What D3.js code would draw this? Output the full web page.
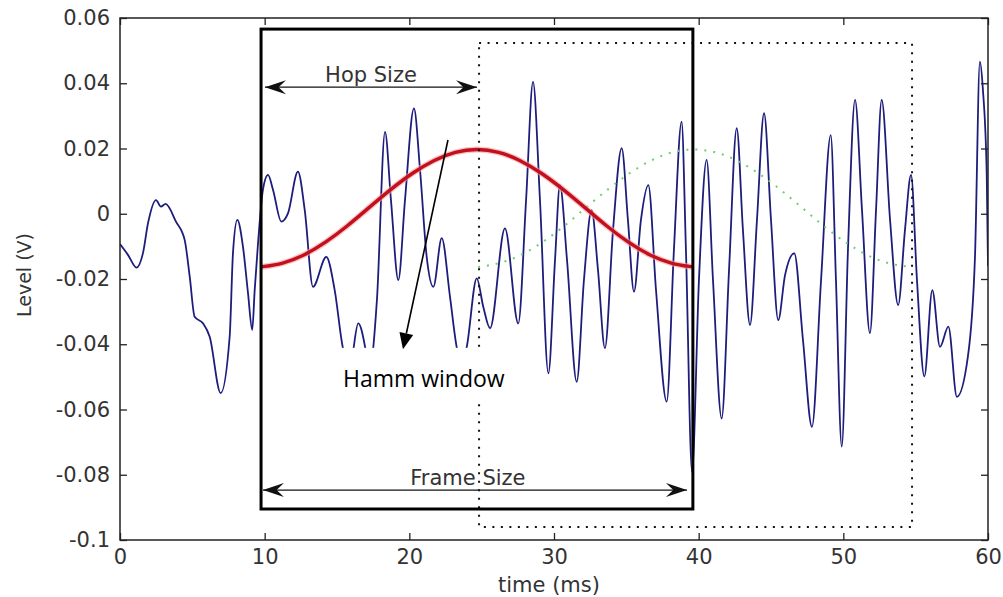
<!DOCTYPE html>
<html>
<head>
<meta charset="utf-8">
<script src="https://cdn.jsdelivr.net/npm/d3@7"></script>
<style>
  body { margin: 0; background: #fff; }
  svg { display: block; }
</style>
</head>
<body>
<svg id="chart" width="1003" height="597"></svg>
<script>
// ---------------- data ----------------
const signalSamples = [
  [0.00,-0.0093],[0.55,-0.0126],[1.14,-0.0165],[1.59,-0.0120],[1.94,-0.0028],[2.49,0.0042],
  [2.83,0.0022],[3.15,0.0030],[3.87,-0.0024],[4.47,-0.0080],[4.82,-0.0193],[5.16,-0.0316],
  [5.74,-0.0336],[6.20,-0.0377],[6.96,-0.0550],[7.58,-0.0377],[7.81,-0.0120],[8.11,-0.0019],
  [8.50,-0.0101],[8.85,-0.0244],[9.14,-0.0356],[9.31,-0.0234],[9.54,-0.0091],[9.88,0.0073],
  [10.23,0.0119],[10.58,0.0073],[11.15,-0.0024],[11.61,0.0001],[12.30,0.0129],[12.77,0.0011],
  [13.34,-0.0224],[14.26,-0.0132],[14.84,-0.0234],[15.41,-0.0412],[15.90,-0.0464],[16.47,-0.0336],
  [16.94,-0.0408],[17.21,-0.0485],[17.76,-0.0264],[18.32,0.0251],[18.73,0.0042],[19.24,-0.0203],
  [19.70,0.0042],[20.32,0.0323],[20.74,0.0134],[21.20,-0.0132],[21.66,-0.0224],[22.24,-0.0075],
  [22.81,-0.0254],[23.27,-0.0408],[23.61,-0.0464],[23.97,-0.0408],[24.66,-0.0198],[25.11,-0.0285],
  [25.58,-0.0351],[26.61,-0.0045],[27.53,-0.0336],[28.07,0.0042],[28.55,0.0404],[29.03,0.0042],
  [29.61,-0.0489],[30.07,-0.0142],[30.41,0.0088],[30.90,-0.0142],[31.57,-0.0515],[32.07,-0.0203],
  [32.60,0.0011],[33.04,-0.0172],[33.52,-0.0412],[34.08,-0.0050],[34.68,0.0201],[35.11,-0.0019],
  [35.53,-0.0239],[36.01,-0.0019],[36.52,0.0088],[37.05,-0.0233],[37.79,-0.0576],[38.29,-0.0111],
  [38.82,0.0282],[39.12,-0.0111],[39.54,-0.0791],[40.02,-0.0203],[40.55,0.0165],[40.99,-0.0203],
  [41.59,-0.0627],[42.10,-0.0172],[42.63,0.0262],[43.06,-0.0050],[43.55,-0.0341],[44.03,-0.0019],
  [44.52,0.0308],[45.00,-0.0019],[45.50,-0.0326],[45.97,-0.0188],[46.61,-0.0121],[47.21,-0.0387],
  [47.83,-0.0653],[48.46,-0.0203],[49.13,0.0241],[49.49,-0.0203],[49.89,-0.0714],[50.32,-0.0111],
  [50.81,0.0349],[51.29,0.0011],[51.84,-0.0366],[52.26,0.0011],[52.65,0.0349],[53.23,-0.0019],
  [53.79,-0.0280],[54.26,-0.0050],[54.68,0.0119],[55.09,-0.0203],[55.60,-0.0499],[56.15,-0.0234],
  [56.68,-0.0408],[57.26,-0.0346],[57.85,-0.0561],[58.61,-0.0438],[59.10,-0.0132],[59.44,0.0466],
  [59.65,0.0379],[59.91,0.0124],[60.00,-0.0160]
];

// Hamming window over the current frame (red)
const windowTime  = [9.75,11.24,12.74,14.23,15.72,17.21,18.71,20.20,21.69,23.18,24.68,
                     26.17,27.66,29.15,30.64,32.14,33.63,35.12,36.61,38.11,39.60];
const windowLevel = [-0.0163,-0.0154,-0.0128,-0.0088,-0.0038,0.0019,0.0075,0.0125,0.0165,0.0191,0.0200,
                     0.0191,0.0165,0.0125,0.0075,0.0019,-0.0038,-0.0088,-0.0128,-0.0154,-0.0163];

// Hamming window over the next frame (green, dotted)
const nextWindowTime  = [24.75,26.24,27.74,29.23,30.72,32.21,33.71,35.20,36.69,38.18,39.68,
                         41.17,42.66,44.15,45.64,47.14,48.63,50.12,51.61,53.11,54.60];
const nextWindowLevel = [-0.0163,-0.0154,-0.0128,-0.0088,-0.0038,0.0019,0.0075,0.0125,0.0165,0.0191,0.0200,
                         0.0191,0.0165,0.0125,0.0075,0.0019,-0.0038,-0.0088,-0.0128,-0.0154,-0.0163];

const xTicks = [0,10,20,30,40,50,60];
const xTickLabels = ["0","10","20","30","40","50","60"];
const yTicks = [-0.1,-0.08,-0.06,-0.04,-0.02,0,0.02,0.04,0.06];
const yTickLabels = ["-0.1","-0.08","-0.06","-0.04","-0.02","0","0.02","0.04","0.06"];

// frames (time start, time end, level bottom, level top)
const currentFrame = [9.75, 39.6, -0.0905, 0.0566];
const nextFrame    = [24.82, 54.75, -0.0960, 0.0523];

// ---------------- drawing ----------------
const svg = d3.select("#chart");
const x = d3.scaleLinear().domain([0, 60]).range([120, 988]);
const y = d3.scaleLinear().domain([-0.1, 0.06]).range([540, 18]);
const FONT = "'DejaVu Sans', sans-serif";

svg.append("rect").attr("width", 1003).attr("height", 597).attr("fill", "#fff");

svg.append("clipPath").attr("id", "plotClip")
  .append("rect").attr("x", x(0)).attr("y", y(0.06))
  .attr("width", x(60) - x(0)).attr("height", y(-0.1) - y(0.06));

const plot = svg.append("g").attr("clip-path", "url(#plotClip)");

// speech signal
plot.append("path")
  .datum(signalSamples)
  .attr("fill", "none")
  .attr("stroke", "#1d1d7c")
  .attr("stroke-width", 1.8)
  .attr("stroke-linejoin", "round")
  .attr("d", d3.line().x(d => x(d[0])).y(d => y(d[1])).curve(d3.curveMonotoneX));

// next-frame window (green dotted)
plot.append("path")
  .datum(nextWindowTime.map((t, i) => [t, nextWindowLevel[i]]))
  .attr("fill", "none")
  .attr("stroke", "#6fcf6f")
  .attr("stroke-width", 2)
  .attr("stroke-dasharray", "2,7")
  .attr("d", d3.line().x(d => x(d[0])).y(d => y(d[1])).curve(d3.curveBasis));

// current window (red)
plot.append("path")
  .datum(windowTime.map((t, i) => [t, windowLevel[i]]))
  .attr("fill", "none")
  .attr("stroke", "#f2a0a4")
  .attr("stroke-width", 6)
  .attr("opacity", 0.6)
  .attr("d", d3.line().x(d => x(d[0])).y(d => y(d[1])).curve(d3.curveBasis));
plot.append("path")
  .datum(windowTime.map((t, i) => [t, windowLevel[i]]))
  .attr("fill", "none")
  .attr("stroke", "#c40f1d")
  .attr("stroke-width", 3.4)
  .attr("d", d3.line().x(d => x(d[0])).y(d => y(d[1])).curve(d3.curveBasis));

// next frame (dotted box)
svg.append("rect")
  .attr("x", x(nextFrame[0])).attr("y", y(nextFrame[3]))
  .attr("width", x(nextFrame[1]) - x(nextFrame[0]))
  .attr("height", y(nextFrame[2]) - y(nextFrame[3]))
  .attr("fill", "none").attr("stroke", "#111")
  .attr("stroke-width", 2).attr("stroke-dasharray", "2,6.5");

// current frame (solid box)
svg.append("rect")
  .attr("x", x(currentFrame[0])).attr("y", y(currentFrame[3]))
  .attr("width", x(currentFrame[1]) - x(currentFrame[0]))
  .attr("height", y(currentFrame[2]) - y(currentFrame[3]))
  .attr("fill", "none").attr("stroke", "#000").attr("stroke-width", 3);

// stealth arrowhead helper
function stealth(tipX, tipY, dir, len, half) {
  const bx = tipX - dir * len;
  const nx = tipX - dir * len * 0.65;
  return `M${tipX},${tipY} L${bx},${tipY - half} L${nx},${tipY} L${bx},${tipY + half} Z`;
}

function dimArrow(t0, t1, level, label, labelT) {
  const yy = y(level);
  svg.append("line")
    .attr("x1", x(t0)).attr("x2", x(t1)).attr("y1", yy).attr("y2", yy)
    .attr("stroke", "#111").attr("stroke-width", 1.4);
  svg.append("path").attr("d", stealth(x(t0), yy, -1, 21, 7)).attr("fill", "#111");
  svg.append("path").attr("d", stealth(x(t1), yy, 1, 21, 7)).attr("fill", "#111");
  svg.append("text")
    .attr("x", x(labelT)).attr("y", yy - 5)
    .attr("text-anchor", "middle")
    .attr("font-family", FONT).attr("font-size", 21).attr("fill", "#333")
    .text(label);
}
dimArrow(10.02, 24.68, 0.0388, "Hop Size", 17.35);
dimArrow(9.88, 39.19, -0.0847, "Frame Size", 24.05);

// Hamm window annotation
svg.append("rect")
  .attr("x", x(14.17)).attr("y", y(-0.0411))
  .attr("width", x(28.0) - x(14.17))
  .attr("height", y(-0.0583) - y(-0.0411))
  .attr("fill", "#fff");
svg.append("text")
  .attr("x", x(15.41)).attr("y", y(-0.0531))
  .attr("font-family", "'Open Sans', 'Noto Sans', sans-serif")
  .attr("font-size", 23).attr("fill", "#000")
  .text("Hamm window");

(function () {
  const x1 = x(22.67), y1 = y(0.0226), x2 = x(19.56), y2 = y(-0.0415);
  const ang = Math.atan2(y2 - y1, x2 - x1);
  const len = 16, half = 7;
  const bx = x2 - len * Math.cos(ang), by = y2 - len * Math.sin(ang);
  svg.append("line").attr("x1", x1).attr("y1", y1).attr("x2", bx).attr("y2", by)
    .attr("stroke", "#000").attr("stroke-width", 1.6);
  const px = -Math.sin(ang) * half, py = Math.cos(ang) * half;
  svg.append("path")
    .attr("d", `M${x2},${y2} L${bx + px},${by + py} L${bx - px},${by - py} Z`)
    .attr("fill", "#000");
})();

// ---------------- axes ----------------
function styleAxis(g) {
  g.select(".domain").remove();
  g.selectAll(".tick line").attr("stroke", "#222").attr("stroke-width", 1.3);
  g.selectAll(".tick text").attr("font-family", FONT).attr("font-size", 21).attr("fill", "#333");
}

svg.append("g").attr("transform", `translate(0,${y(-0.1)})`)
  .call(d3.axisBottom(x).tickValues(xTicks).tickFormat((d, i) => xTickLabels[i])
    .tickSizeInner(-7).tickSizeOuter(0).tickPadding(9))
  .call(styleAxis);
svg.append("g").attr("transform", `translate(0,${y(0.06)})`)
  .call(d3.axisTop(x).tickValues(xTicks).tickFormat("")
    .tickSizeInner(-7).tickSizeOuter(0))
  .call(styleAxis);
svg.append("g").attr("transform", `translate(${x(0)},0)`)
  .call(d3.axisLeft(y).tickValues(yTicks).tickFormat((d, i) => yTickLabels[i])
    .tickSizeInner(-7).tickSizeOuter(0).tickPadding(10))
  .call(styleAxis);
svg.append("g").attr("transform", `translate(${x(60)},0)`)
  .call(d3.axisRight(y).tickValues(yTicks).tickFormat("")
    .tickSizeInner(-7).tickSizeOuter(0))
  .call(styleAxis);

svg.append("rect")
  .attr("x", x(0)).attr("y", y(0.06))
  .attr("width", x(60) - x(0)).attr("height", y(-0.1) - y(0.06))
  .attr("fill", "none").attr("stroke", "#222").attr("stroke-width", 1.5);

// axis titles
svg.append("text")
  .attr("x", 549).attr("y", 592)
  .attr("text-anchor", "middle")
  .attr("font-family", FONT).attr("font-size", 21).attr("fill", "#333")
  .text("time (ms)");
svg.append("text")
  .attr("transform", "translate(31,275) rotate(-90)")
  .attr("text-anchor", "middle")
  .attr("font-family", FONT).attr("font-size", 19).attr("fill", "#333")
  .text("Level (V)");
</script>
</body>
</html>
